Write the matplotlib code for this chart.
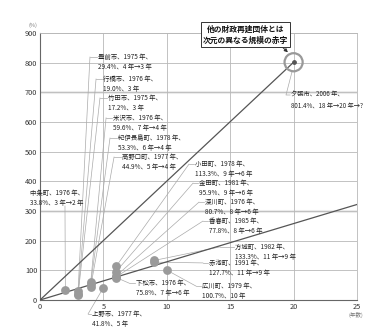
import matplotlib.pyplot as plt

plt.rcParams['font.family'] = ['Noto Sans CJK JP', 'DejaVu Sans']

# 財政再建団体 (過去の事例)
names = ['豊前市', '行橋市', '竹田市', '米沢市', '紀伊長島町', '高野口町', '中条町',
         '上野市', '下松市', '小田町', '金田町', '深川町', '香春町', '方城町',
         '赤池町', '広川町']
start_year = [1975, 1976, 1975, 1976, 1978, 1977, 1976,
              1977, 1976, 1978, 1981, 1976, 1985, 1982,
              1991, 1979]
deficit_pct = [29.4, 19.0, 17.2, 59.6, 53.3, 44.9, 33.8,
               41.8, 75.8, 113.3, 95.9, 80.7, 77.8, 133.3,
               127.7, 100.7]
plan_text = ['4 年→3 年', '3 年', '3 年', '7 年→4 年', '6 年→4 年', '5 年→4 年', '3 年→2 年',
             '5 年', '7 年→6 年', '9 年→6 年', '9 年→6 年', '8 年→6 年', '8 年→6 年', '11 年→9 年',
             '11 年→9 年', '10 年']
plan_years = [3, 3, 3, 4, 4, 4, 2,
              5, 6, 6, 6, 6, 6, 9,
              9, 10]

# 夕張市
yubari_name = '夕張市'
yubari_year = 2006
yubari_pct = 801.4
yubari_plan = '18 年→20 年→?'
yubari_years = 20

# 参考線
trend_x = [0, 25]
trend_y = [0, 322]

# ラベル位置 (テキスト左端, 1行目の高さ) と引き出し線の折れ点
label_xy = [(4.50, 819), (4.89, 745), (5.28, 681), (5.68, 614), (6.07, 546), (6.39, 482),
            (-0.87, 361), (4.02, -47), (7.49, 57), (12.15, 458), (12.46, 394), (12.93, 330),
            (13.25, 266), (15.30, 179), (13.25, 125), (12.70, 47)]
corner_xy = [(3.94, 819), (4.42, 745), (4.73, 681), (5.21, 614), (5.52, 546), (5.84, 482),
             (1.97, 317), (3.79, -47), (7.02, 57), (11.75, 458), (12.07, 394), (12.54, 330),
             (12.85, 266), (14.2, 179), (12.85, 125), (12.30, 47)]

fig = plt.figure(figsize=(3.87, 3.34), dpi=100)
ax = fig.add_axes([40 / 387, 34 / 334, 317 / 387, 267 / 334])

ax.set_xlim(0, 25)
ax.set_ylim(0, 900)
ax.set_xticks([0, 5, 10, 15, 20, 25])
ax.set_yticks(range(0, 1000, 100))
ax.tick_params(length=0, labelsize=5.3, labelcolor='#333', pad=2)

# 薄い帯
for yb in (300, 700):
    ax.axhline(yb, color='#ebebeb', lw=2.2, zorder=0)
ax.grid(True, color='#b8b8b8', lw=0.6, zorder=1)
ax.set_axisbelow(True)
for side in ('left', 'bottom'):
    ax.spines[side].set_color('#666')
    ax.spines[side].set_linewidth(0.8)
for side in ('top', 'right'):
    ax.spines[side].set_color('#b8b8b8')
    ax.spines[side].set_linewidth(0.6)

ax.plot([0, yubari_years], [0, yubari_pct], color='#555', lw=0.9, zorder=3)
ax.plot(trend_x, trend_y, color='#555', lw=0.9, zorder=3)

# 引き出し線とラベル
for i in range(len(names)):
    px, py = plan_years[i], deficit_pct[i]
    cx, cy = corner_xy[i]
    tx, ty = label_xy[i]
    ax.plot([px, cx], [py, cy], color='#aaa', lw=0.5, zorder=2, clip_on=False)
    if names[i] != '中条町':
        ax.plot([cx, tx], [cy, ty], color='#aaa', lw=0.5, zorder=2, clip_on=False)
    txt = f'{names[i]}、{start_year[i]} 年、\n{deficit_pct[i]}%、{plan_text[i]}'
    ax.text(tx + 0.05, ty + 13, txt, fontsize=4.6, va='top', ha='left',
            linespacing=1.35, color='#222', clip_on=False, zorder=4)

ax.scatter(plan_years, deficit_pct, s=40, color='#9a9a9a', zorder=5, lw=0)

# 夕張市
ax.plot([yubari_years - 0.1, 19.4, 19.72], [yubari_pct - 28, 691, 691],
        color='#aaa', lw=0.5, zorder=2, clip_on=False)
ax.text(19.77, 704, f'{yubari_name}、{yubari_year} 年、\n{yubari_pct}%、{yubari_plan}',
        fontsize=4.5, va='top', ha='left', linespacing=1.35, color='#222',
        clip_on=False, zorder=4)
ax.scatter([yubari_years], [yubari_pct], s=170, facecolor='none', edgecolor='#999',
           lw=1.6, zorder=5, clip_on=False)
ax.scatter([yubari_years], [yubari_pct], s=6, color='#555', zorder=6, clip_on=False)

ax.annotate('他の財政再建団体とは\n次元の異なる規模の赤字',
            xy=(19.55, 835), xycoords='data',
            xytext=(245.5 / 387, 1 - 34.5 / 334), textcoords='figure fraction',
            ha='center', va='center', fontsize=5.6, fontweight='bold',
            linespacing=1.3, color='#111',
            bbox=dict(boxstyle='square,pad=0.3', fc='white', ec='#333', lw=0.7),
            arrowprops=dict(arrowstyle='-|>', color='#333', lw=0.7,
                            mutation_scale=5, shrinkA=0, shrinkB=0, relpos=(0.9, 0)),
            zorder=7)

fig.text(33 / 387, 1 - 25 / 334, '(%)', fontsize=4.0, color='#777', ha='center', va='center')
fig.text(356 / 387, 1 - 315 / 334, '(年数)', fontsize=4.0, color='#777', ha='center', va='center')

fig.savefig('out.png', dpi=100)
